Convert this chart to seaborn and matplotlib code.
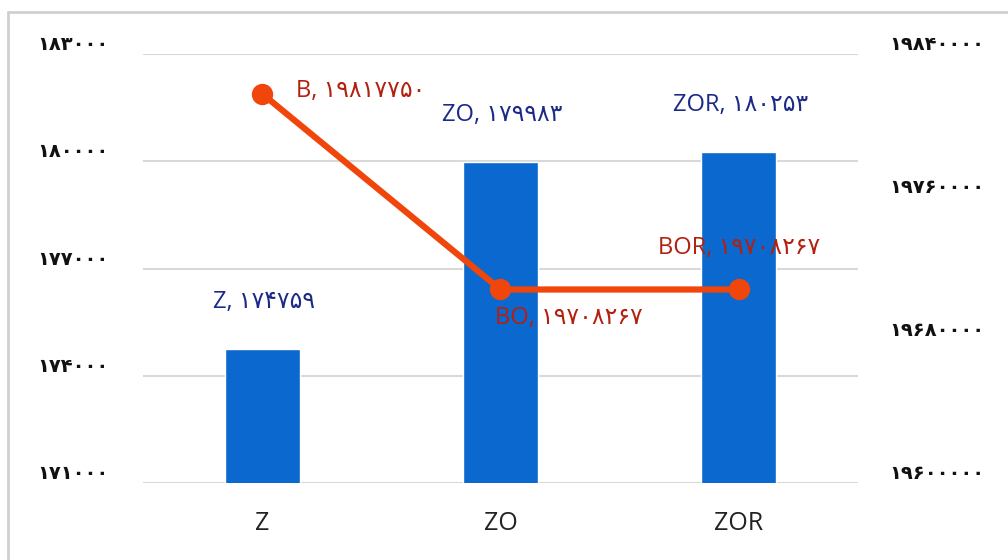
import matplotlib
matplotlib.use("Agg")
import matplotlib.pyplot as plt
import seaborn as sns
import pandas as pd
from matplotlib.lines import Line2D

categories = ["Z", "ZO", "ZOR"]
bar_values = [174759, 179983, 180253]
line_names = ["B", "BO", "BOR"]
line_values = [19817750, 19708267, 19708267]
left_ticks = [171000, 174000, 177000, 180000, 183000]
right_ticks = [19600000, 19680000, 19760000, 19840000]

sns.set_theme(style="white")
plt.rcParams['font.family'] = ['Open Sans', 'DejaVu Sans']

FA = str.maketrans("0123456789", "۰۱۲۳۴۵۶۷۸۹")
def fa(v):
    return str(v).translate(FA)

BAR_C = "#0b68cf"
LINE_C = "#f1460b"
BAR_TXT = "#1b2a86"
LINE_TXT = "#b3200f"

fig = plt.figure(figsize=(10.08, 5.6), dpi=100)
ax = fig.add_axes([0.142, 0.1375, 0.709, 0.766])

df = pd.DataFrame({"cat": categories, "val": bar_values})
sns.barplot(data=df, x="cat", y="val", ax=ax, color=BAR_C, width=0.315,
            saturation=1, zorder=3)
ax.set_ylim(left_ticks[0], left_ticks[-1])
ax.set_yticks(left_ticks)
ax.set_yticklabels([fa(t) for t in left_ticks], family=['DejaVu Sans'],
                   fontsize=14, fontweight='bold', color='#111111', va='bottom')
ax.set_xlim(-0.5, 2.5)
ax.set_xlabel("")
ax.set_ylabel("")
ax.tick_params(axis='x', labelsize=18, colors='#222222', pad=20, length=0)
ax.tick_params(axis='y', length=0, pad=25)
ax.grid(axis='y', color='#d9d9d9', linewidth=1.5, zorder=0)
ax.set_axisbelow(True)
for s in ax.spines.values():
    s.set_visible(False)

ax2 = ax.twinx()
ldf = pd.DataFrame({"cat": categories, "val": line_values})
sns.pointplot(data=ldf, x="cat", y="val", ax=ax2, color=LINE_C,
              markersize=12, linewidth=4.5, errorbar=None)
ax2.set_ylim(right_ticks[0], right_ticks[-1])
ax2.set_yticks(right_ticks)
ax2.set_yticklabels([fa(t) for t in right_ticks], family=['DejaVu Sans'],
                    fontsize=14, fontweight='bold', color='#111111', va='bottom')
ax2.tick_params(axis='y', length=0, pad=23)
ax2.set_ylabel("")
ax2.set_xlabel("")
ax2.set_xlim(-0.5, 2.5)
for s in ax2.spines.values():
    s.set_visible(False)

# bar labels
for i, (c, v) in enumerate(zip(categories, bar_values)):
    ax.annotate(f"{c}, {fa(v)}", xy=(i, v), xytext=(2, 47),
                textcoords='offset pixels', ha='center', va='center',
                fontsize=17, color=BAR_TXT, family=['Open Sans', 'DejaVu Sans'],
                zorder=5)

# line labels
line_offsets = [((34, 3), 'left'), ((-5, -29), 'left'), ((0, 41), 'center')]
for i, (n, v) in enumerate(zip(line_names, line_values)):
    (dx, dy), ha = line_offsets[i]
    ax2.annotate(f"{n}, {fa(v)}", xy=(i, v), xytext=(dx, dy),
                 textcoords='offset pixels', ha=ha, va='center',
                 fontsize=17, color=LINE_TXT, family=['Open Sans', 'DejaVu Sans'],
                 zorder=5)

fig.add_artist(Line2D([8/1008, 8/1008], [0, 1 - 12/560], color='#d0d0d0', linewidth=2))
fig.add_artist(Line2D([8/1008, 1], [1 - 12/560, 1 - 12/560], color='#d0d0d0', linewidth=2))

fig.savefig("out.png", dpi=100)
